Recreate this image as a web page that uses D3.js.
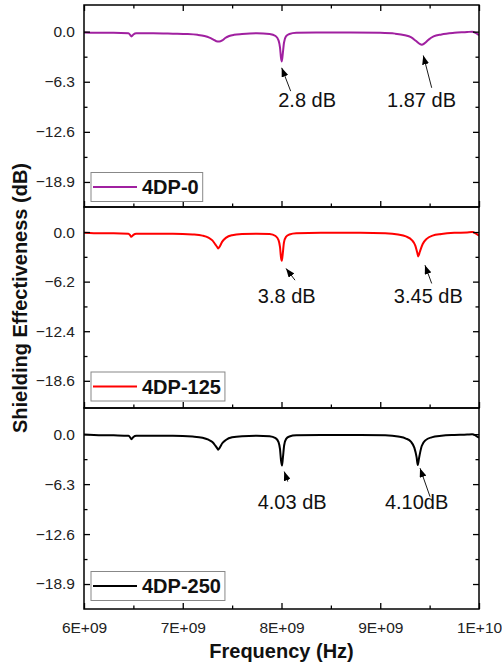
<!DOCTYPE html>
<html><head><meta charset="utf-8">
<script src="https://cdn.jsdelivr.net/npm/d3@7"></script>
<style>body{margin:0;background:#fff}svg{display:block;font-family:"Liberation Sans",Arial,sans-serif}</style>
</head><body><svg id="c" width="502" height="668"></svg>
<script>
// ---------- data ----------
const freqTicks = [6e9, 7e9, 8e9, 9e9, 1e10];
const freqTickLabels = ["6E+09", "7E+09", "8E+09", "9E+09", "1E+10"];
const freqMinorTicks = [6.5e9, 7.5e9, 8.5e9, 9.5e9];
const seriesNames = ["4DP-0", "4DP-125", "4DP-250"];
const seriesColors = ["#a020a0", "#ff0000", "#000000"];

// frequency in GHz, shielding effectiveness in dB
const freq0 = [6.00,6.10,6.30,6.45,6.47,6.48,6.50,6.53,6.70,6.90, 7.05,7.15,7.22,7.27,7.31,7.34,7.37,7.40,7.43,7.47, 7.52,7.60,7.75,7.88,7.94,7.97,7.985,7.995,8.003,8.012, 8.025,8.045,8.08,8.15,8.35,8.70,9.00,9.15,9.25,9.31, 9.36,9.40,9.42,9.45,9.49,9.54,9.62,9.75,9.88,9.93, 9.97,10.00];
const se0 = [-0.10,-0.15,-0.15,-0.2,-0.45,-0.6,-0.35,-0.2,-0.2,-0.25, -0.3,-0.4,-0.55,-0.75,-1.0,-1.2,-1.25,-1.1,-0.8,-0.55, -0.4,-0.3,-0.2,-0.3,-0.55,-1.1,-2.0,-3.3,-3.75,-2.9, -1.4,-0.6,-0.3,-0.15,-0.1,-0.1,-0.15,-0.25,-0.45,-0.7, -1.15,-1.55,-1.65,-1.45,-1.0,-0.6,-0.35,-0.15,-0.05,0.0, -0.2,-0.45];

const freq1 = [6.00,6.10,6.30,6.45,6.47,6.48,6.50,6.53,6.70,6.90, 7.10,7.20,7.26,7.30,7.33,7.35,7.36,7.375,7.40,7.44, 7.50,7.60,7.75,7.88,7.94,7.97,7.985,7.995,8.003,8.012, 8.025,8.045,8.08,8.15,8.40,8.80,9.05,9.18,9.26,9.32, 9.355,9.375,9.385,9.40,9.43,9.47,9.53,9.62,9.75,9.88, 9.93,9.97,10.00];
const se1 = [-0.10,-0.15,-0.15,-0.2,-0.45,-0.6,-0.35,-0.2,-0.2,-0.2, -0.3,-0.45,-0.7,-1.05,-1.55,-1.9,-2.05,-1.8,-1.2,-0.7, -0.4,-0.25,-0.2,-0.25,-0.5,-1.0,-1.9,-3.2,-3.6,-2.8, -1.3,-0.6,-0.3,-0.15,-0.1,-0.1,-0.15,-0.3,-0.55,-1.0, -1.7,-2.6,-3.05,-2.5,-1.5,-0.85,-0.45,-0.25,-0.1,-0.05, 0.0,-0.2,-0.45];

const freq2 = [6.00,6.10,6.30,6.45,6.47,6.48,6.50,6.53,6.70,6.90, 7.10,7.20,7.26,7.30,7.33,7.35,7.36,7.375,7.40,7.44, 7.50,7.60,7.75,7.88,7.94,7.97,7.985,7.995,8.005,8.014, 8.027,8.047,8.08,8.15,8.40,8.80,9.05,9.18,9.26,9.31, 9.345,9.368,9.38,9.393,9.42,9.46,9.52,9.62,9.75,9.88, 9.93,9.97,10.00];
const se2 = [-0.05,-0.1,-0.15,-0.2,-0.45,-0.65,-0.35,-0.2,-0.2,-0.2, -0.3,-0.45,-0.7,-1.0,-1.45,-1.8,-1.95,-1.7,-1.15,-0.7, -0.4,-0.25,-0.2,-0.25,-0.5,-1.0,-1.9,-3.3,-3.95,-3.0, -1.4,-0.6,-0.3,-0.15,-0.1,-0.1,-0.15,-0.3,-0.55,-0.95, -1.7,-2.9,-3.9,-3.0,-1.5,-0.75,-0.4,-0.2,-0.1,-0.05, 0.0,-0.2,-0.45];

const yTicks0 = [0, -6.3, -12.6, -18.9];
const yTicks1 = [0, -6.2, -12.4, -18.6];
const yTicks2 = [0, -6.3, -12.6, -18.9];
const yDomains = [[-22.05, 3.35], [-22.0, 3.13], [-22.05, 3.3]];

// annotations: label, label position [GHz, dB], arrow tail, arrow tip
const annLabels0 = ["2.8 dB", "1.87 dB"];
const annPos0 = [[8.26, -9.5], [9.418, -9.5]];
const annTail0 = [[8.093, -7.48], [9.521, -7.06]];
const annTip0 = [[8.002, -4.55], [9.436, -3.0]];
const annLabels1 = ["3.8 dB", "3.45 dB"];
const annPos1 = [[8.053, -8.93], [9.487, -8.9]];
const annTail1 = [[8.137, -6.02], [9.521, -6.43]];
const annTip1 = [[8.046, -4.55], [9.453, -4.14]];
const annLabels2 = ["4.03 dB", "4.10dB"];
const annPos2 = [[8.108, -9.47], [9.368, -9.43]];
const annTail2 = [[8.063, -5.98], [9.504, -7.88]];
const annTip2 = [[8.028, -4.72], [9.403, -4.29]];

// ---------- drawing ----------
const svg = d3.select("#c");
const left = 84, right = 479;
const panelTops = [5, 207, 408];
const panelBottoms = [207, 408, 609];
const x = d3.scaleLinear().domain([6e9, 1e10]).range([left, right]);

const panels = [
  {freq: freq0, se: se0, ticks: yTicks0, ann: [annLabels0, annPos0, annTail0, annTip0]},
  {freq: freq1, se: se1, ticks: yTicks1, ann: [annLabels1, annPos1, annTail1, annTip1]},
  {freq: freq2, se: se2, ticks: yTicks2, ann: [annLabels2, annPos2, annTail2, annTip2]}
];

const defs = svg.append("defs");
defs.append("marker")
  .attr("id", "ah").attr("markerUnits", "userSpaceOnUse")
  .attr("markerWidth", 10).attr("markerHeight", 7)
  .attr("refX", 9).attr("refY", 3.5).attr("orient", "auto")
  .append("path").attr("d", "M0,0 L9,3.5 L0,7 Z").attr("fill", "#000");

const fmt = d3.format(".1f");
const tickFont = "15.5px";

function styleTicks(sel) {
  sel.select(".domain").remove();
  sel.selectAll("line").attr("stroke", "#000").attr("stroke-width", 1.3);
  return sel;
}

panels.forEach((p, i) => {
  const top = panelTops[i], bot = panelBottoms[i];
  const y = d3.scaleLinear().domain(yDomains[i]).range([bot, top]);
  const g = svg.append("g");
  const cid = "clip" + i;
  defs.append("clipPath").attr("id", cid)
    .append("rect").attr("x", left).attr("y", top).attr("width", right - left).attr("height", bot - top);

  // curve
  const pts = p.freq.map((f, k) => [f * 1e9, p.se[k]]);
  g.append("path").datum(pts)
    .attr("clip-path", `url(#${cid})`)
    .attr("fill", "none").attr("stroke", seriesColors[i]).attr("stroke-width", 2)
    .attr("stroke-linejoin", "round")
    .attr("d", d3.line().x(d => x(d[0])).y(d => y(d[1])).curve(d3.curveMonotoneX));

  // minor y ticks
  const step = p.ticks[0] - p.ticks[1];
  const minors = p.ticks.map(t => t - step / 2).filter(v => y(v) < bot - 4 && y(v) > top + 4);

  // left axis
  const gl = styleTicks(g.append("g").attr("transform", `translate(${left},0)`)
    .call(d3.axisLeft(y).tickValues(p.ticks).tickSize(-6).tickPadding(9).tickFormat(fmt)));
  gl.selectAll("text").attr("font-size", tickFont).attr("fill", "#222").attr("font-family", '"Liberation Sans",Arial,sans-serif');
  styleTicks(g.append("g").attr("transform", `translate(${left},0)`)
    .call(d3.axisLeft(y).tickValues(minors).tickSize(-3.5).tickFormat("")));

  // right axis
  styleTicks(g.append("g").attr("transform", `translate(${right},0)`)
    .call(d3.axisRight(y).tickValues(p.ticks).tickSize(-6).tickFormat("")));
  styleTicks(g.append("g").attr("transform", `translate(${right},0)`)
    .call(d3.axisRight(y).tickValues(minors).tickSize(-3.5).tickFormat("")));

  // bottom ticks (inward)
  styleTicks(g.append("g").attr("transform", `translate(0,${bot})`)
    .call(d3.axisBottom(x).tickValues(freqTicks).tickSize(-6).tickFormat("")));
  styleTicks(g.append("g").attr("transform", `translate(0,${bot})`)
    .call(d3.axisBottom(x).tickValues(freqMinorTicks).tickSize(-3.5).tickFormat("")));

  if (i === 0) {
    styleTicks(g.append("g").attr("transform", `translate(0,${top})`)
      .call(d3.axisTop(x).tickValues(freqTicks).tickSize(-6).tickFormat("")));
    styleTicks(g.append("g").attr("transform", `translate(0,${top})`)
      .call(d3.axisTop(x).tickValues(freqMinorTicks).tickSize(-3.5).tickFormat("")));
  }

  if (i === 2) {
    const gx = g.append("g").attr("transform", `translate(0,${bot})`)
      .call(d3.axisBottom(x).tickValues(freqTicks).tickSize(0).tickPadding(13).tickFormat((d, k) => freqTickLabels[k]));
    gx.select(".domain").remove();
    gx.selectAll("text").attr("font-size", tickFont).attr("fill", "#222").attr("font-family", '"Liberation Sans",Arial,sans-serif');
  }

  // frame
  g.append("rect").attr("x", left).attr("y", top).attr("width", right - left).attr("height", bot - top)
    .attr("fill", "none").attr("stroke", "#000").attr("stroke-width", 1.5);

  // annotations
  const [labs, pos, tails, tips] = p.ann;
  labs.forEach((t, k) => {
    g.append("line")
      .attr("x1", x(tails[k][0] * 1e9)).attr("y1", y(tails[k][1]))
      .attr("x2", x(tips[k][0] * 1e9)).attr("y2", y(tips[k][1]))
      .attr("stroke", "#000").attr("stroke-width", 0.9).attr("marker-end", "url(#ah)");
    g.append("text").attr("x", x(pos[k][0] * 1e9)).attr("y", y(pos[k][1]))
      .attr("text-anchor", "middle").attr("font-size", "20px").attr("fill", "#111").text(t);
  });

  // legend
  const lg = g.append("g");
  const lx = 91, lh = 29, ly = bot - 34.5 - i * 1.5;
  const txt = lg.append("text").attr("x", lx + 51).attr("y", ly + lh / 2 + 7)
    .attr("font-size", "20px").attr("font-weight", "bold").attr("fill", "#111").text(seriesNames[i]);
  const tw = txt.node().getComputedTextLength();
  lg.insert("rect", "text").attr("x", lx).attr("y", ly).attr("width", 51 + tw + 4).attr("height", lh)
    .attr("fill", "#fff").attr("stroke", "#888").attr("stroke-width", 1);
  lg.append("line").attr("x1", lx + 2).attr("x2", lx + 46).attr("y1", ly + lh / 2).attr("y2", ly + lh / 2)
    .attr("stroke", seriesColors[i]).attr("stroke-width", 2);
});

// axis titles
svg.append("text").attr("x", (left + right) / 2).attr("y", 658).attr("text-anchor", "middle")
  .attr("font-size", "20px").attr("font-weight", "bold").attr("fill", "#111").text("Frequency (Hz)");
svg.append("text").attr("transform", "translate(27,298) rotate(-90)").attr("text-anchor", "middle")
  .attr("font-size", "20px").attr("font-weight", "bold").attr("fill", "#111").text("Shielding Effectiveness (dB)");
</script>
</body></html>
